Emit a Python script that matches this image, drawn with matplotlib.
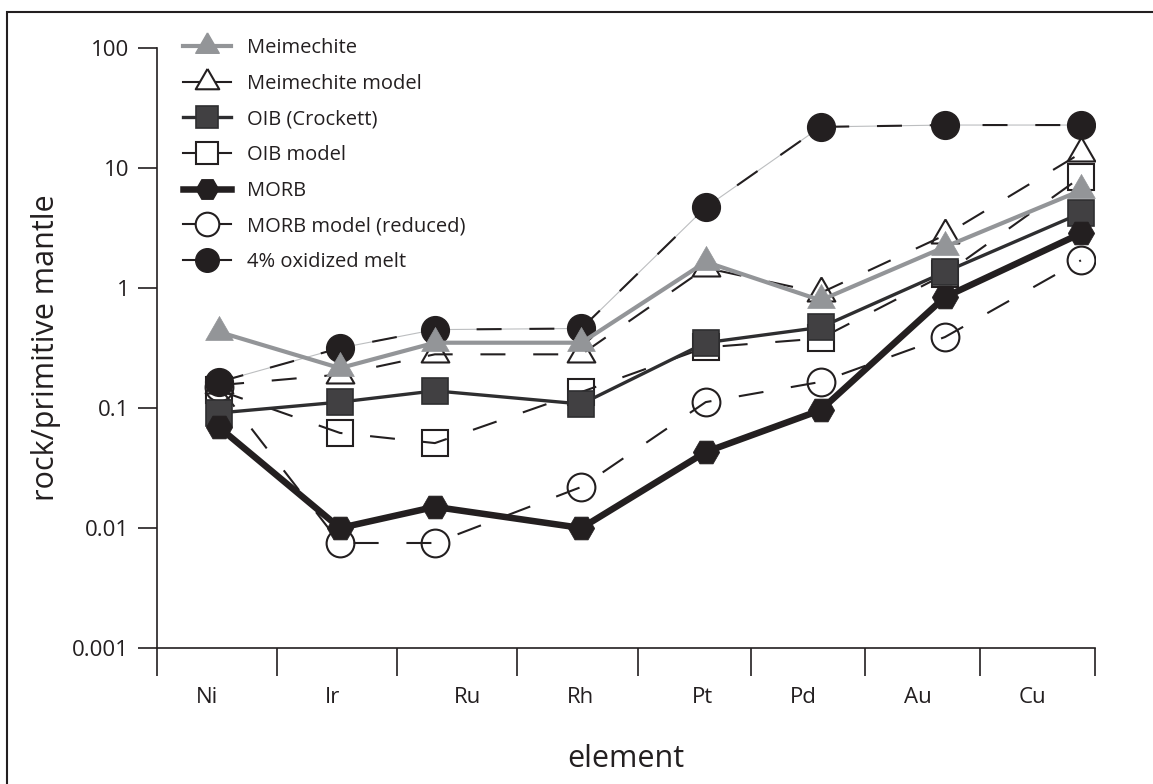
import matplotlib
matplotlib.use("Agg")
import matplotlib.pyplot as plt
from matplotlib.lines import Line2D
from matplotlib.patches import Rectangle
from matplotlib.ticker import FixedLocator, FixedFormatter, NullLocator

plt.rcParams['font.family'] = ['Open Sans', 'DejaVu Sans']
plt.rcParams['lines.scale_dashes'] = False

# data
elements = ['Ni', 'Ir', 'Ru', 'Rh', 'Pt', 'Pd', 'Au', 'Cu']
elem_x = [0.53, 1.56, 2.37, 3.62, 4.68, 5.66, 6.72, 7.88]
label_x = [0.43, 1.50, 2.65, 3.61, 4.65, 5.51, 6.49, 7.47]
bin_edges = [0, 1.02, 2.05, 3.07, 4.10, 5.07, 6.04, 7.02, 8.0]

meimechite = [0.43, 0.215, 0.35, 0.35, 1.65, 0.79, 2.2, 6.5]
meimechite_model = [0.155, 0.19, 0.28, 0.28, 1.47, 0.91, 2.76, 13.3]
oib = [0.091, 0.112, 0.139, 0.108, 0.35, 0.47, 1.36, 4.2]
oib_model = [0.14, 0.062, 0.051, 0.136, 0.32, 0.38, 1.3, 8.4]
morb = [0.069, 0.010, 0.015, 0.010, 0.043, 0.096, 0.84, 2.85]
morb_model = [0.15, 0.0075, 0.0075, 0.022, 0.112, 0.165, 0.39, 1.7]
ox_melt = [0.165, 0.316, 0.45, 0.46, 4.7, 22.0, 22.8, 22.8]

ink = '#231f20'
grey = '#939598'
dark = '#414042'
tri = [(0, 1), (-0.866, -0.5), (0.866, -0.5), (0, 1)]
dash = (0, (18, 20))

fig = plt.figure(figsize=(11.53, 7.84), dpi=100)
ax = fig.add_axes([157 / 1153, 1 - 648 / 784, 938 / 1153, 600 / 784])

# model series: open markers first, dashed line drawn over them
ax.plot(elem_x, oib_model, ls='none', marker='s', ms=19, mfc='white', mec=ink, mew=1.5, zorder=2)
ax.plot(elem_x, oib_model, ls=dash, color=ink, lw=1.5, zorder=3)
ax.plot(elem_x, morb_model, ls='none', marker='o', ms=20, mfc='white', mec=ink, mew=1.5, zorder=2)
ax.plot(elem_x, morb_model, ls=dash, color=ink, lw=1.5, zorder=3)
ax.plot(elem_x, meimechite_model, ls='none', marker=tri, ms=23, mfc='white', mec=ink, mew=1.5, zorder=2)
ax.plot(elem_x, meimechite_model, ls=dash, color=ink, lw=1.5, zorder=3)

# oxidized melt: thin grey line under black dashes
ax.plot(elem_x, ox_melt, color='#bcbec0', lw=0.8, zorder=3)
ax.plot(elem_x, ox_melt, ls=dash, color=ink, lw=1.5, zorder=3)
ax.plot(elem_x, ox_melt, ls='none', marker='o', ms=20, mfc=ink, mec=ink, mew=1, zorder=4)

ax.plot(elem_x, meimechite, color=grey, lw=3, marker=tri, ms=23, mfc=grey, mec=grey, mew=0.5, zorder=5)
ax.plot(elem_x, oib, color='#2e2e30', lw=2.4, marker='s', ms=19, mfc=dark, mec='#2e2e30', mew=1.2, zorder=6)
ax.plot(elem_x, morb, color=ink, lw=4.7, marker='H', ms=19, mfc=ink, mec=ink, mew=0.5, zorder=7)

ax.set_yscale('log')
ax.set_ylim(0.001, 100)
ax.set_xlim(0, 8)
for s in ['top', 'right']:
    ax.spines[s].set_visible(False)
for s in ['left', 'bottom']:
    ax.spines[s].set_color(ink)
    ax.spines[s].set_linewidth(1.2)

ax.yaxis.set_major_locator(FixedLocator([0.001, 0.01, 0.1, 1, 10, 100]))
ax.yaxis.set_major_formatter(FixedFormatter(['0.001', '0.01', '0.1', '1', '10', '100']))
ax.yaxis.set_minor_locator(NullLocator())
ax.tick_params(axis='y', which='major', direction='out', length=14, width=1.2, color=ink,
               labelsize=16, labelcolor=ink, pad=6)

ax.xaxis.set_major_locator(FixedLocator(bin_edges))
ax.xaxis.set_major_formatter(FixedFormatter([''] * len(bin_edges)))
ax.xaxis.set_minor_locator(FixedLocator(label_x))
ax.xaxis.set_minor_formatter(FixedFormatter(elements))
ax.tick_params(axis='x', which='major', direction='out', length=20, width=1.2, color=ink)
ax.tick_params(axis='x', which='minor', length=0, labelsize=16, labelcolor=ink, pad=28)

ax.set_ylabel('rock/primitive mantle', fontsize=22, color=ink)
ax.yaxis.set_label_coords(-0.102, 0.5)
ax.set_xlabel('element', fontsize=22, color=ink, labelpad=26)

handles = [
    Line2D([], [], color=grey, lw=3, marker=tri, ms=23, mfc=grey, mec=grey),
    Line2D([], [], color=ink, lw=1.5, marker=tri, ms=23, mfc='white', mec=ink, mew=1.5),
    Line2D([], [], color='#2e2e30', lw=2.4, marker='s', ms=19, mfc=dark, mec='#2e2e30', mew=1.2),
    Line2D([], [], color=ink, lw=1.5, marker='s', ms=19, mfc='white', mec=ink, mew=1.5),
    Line2D([], [], color=ink, lw=4.7, marker='H', ms=19, mfc=ink, mec=ink),
    Line2D([], [], color=ink, lw=1.5, marker='o', ms=20, mfc='white', mec=ink, mew=1.5),
    Line2D([], [], color=ink, lw=1.5, marker='o', ms=20, mfc=ink, mec=ink),
]
labels = ['Meimechite', 'Meimechite model', 'OIB (Crockett)', 'OIB model', 'MORB',
          'MORB model (reduced)', '4% oxidized melt']
leg = ax.legend(handles, labels, loc='upper left', bbox_to_anchor=(183 / 1153, 1 - 38 / 784),
                bbox_transform=fig.transFigure, frameon=False, fontsize=14.5, markerscale=0.85,
                handlelength=2.4, handletextpad=0.8, labelspacing=0.78, borderpad=0,
                borderaxespad=0, numpoints=1)
for t in leg.get_texts():
    t.set_color(ink)

fig.patches.append(Rectangle((7 / 1153, -0.1), 1.2, 1.1 - 12 / 784, transform=fig.transFigure,
                             fill=False, lw=1.5, ec=ink))

fig.savefig('out.png', dpi=100)
